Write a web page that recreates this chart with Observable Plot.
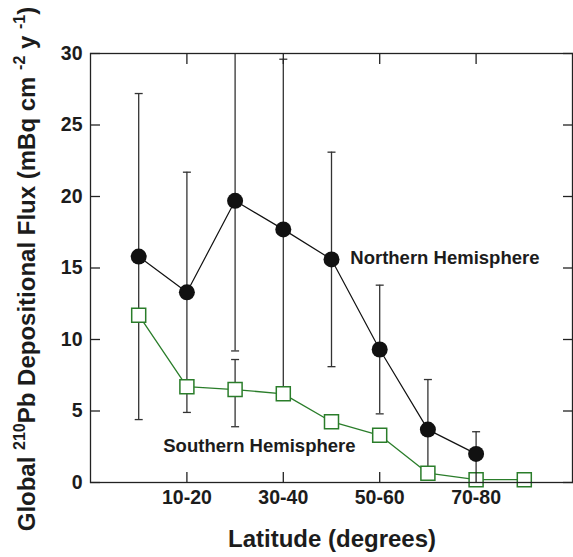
<!DOCTYPE html>
<html><head><meta charset="utf-8">
<script src="https://cdn.jsdelivr.net/npm/d3@7"></script>
<script src="https://cdn.jsdelivr.net/npm/@observablehq/plot@0.6"></script>
<style>body{margin:0;background:#fff;} svg{font-family:"Liberation Sans",Arial,sans-serif;}</style>
</head><body><div id="chart"></div>
<script>
// Data
const categories = ["0-10","10-20","20-30","30-40","40-50","50-60","60-70","70-80","80-90"];
const xTickLabels = ["10-20","30-40","50-60","70-80"];
const yTicks = [0,5,10,15,20,25,30];
const northern = [15.8,13.3,19.7,17.7,15.6,9.3,3.7,2.0];
const northernErr = [11.4,8.4,10.5,11.9,7.5,4.5,3.5,1.55];
const southern = [11.7,6.7,6.5,6.2,4.25,3.3,0.65,0.2,0.2];
const southernLow = [null,null,3.9,null,null,null,null,null,null];
const southernHigh = [null,null,8.6,null,null,null,null,null,null];
const annotations = ["Northern Hemisphere","Southern Hemisphere"];
const annotationX = [5.39, 1.51];
const annotationY = [15.7, 2.55];

const green = "#2a7d2a";
const ink = "#1c1c1c";
const pos = c => categories.indexOf(c) + 1;
const nData = northern.map((v,i)=>({x:i+1, y:v, lo:v-northernErr[i], hi:v+northernErr[i]}));
const sData = southern.map((v,i)=>({x:i+1, y:v}));
const sErr = southernLow.map((lo,i)=>({x:i+1, lo, hi:southernHigh[i]})).filter(d=>d.lo!=null);
const errs = [...nData.map(d=>({x:d.x, lo:d.lo, hi:d.hi})), ...sErr];
const caps = errs.flatMap(d=>[{x:d.x, y:d.lo},{x:d.x, y:d.hi}]);
const capSymbol = {draw(ctx){ctx.moveTo(-4,0); ctx.lineTo(4,0);}};
const xTickValues = xTickLabels.map(pos);

const chart = Plot.plot({
  width:573, height:557,
  marginLeft:90, marginRight:1, marginTop:53, marginBottom:75,
  style:{fontFamily:"Liberation Sans, Arial, sans-serif", background:"white", color:ink},
  x:{domain:[0, categories.length+1]},
  y:{domain:[0,30]},
  marks:[
    Plot.ruleX(errs, {x:"x", y1:"lo", y2:"hi", stroke:"#333", strokeWidth:1.3, clip:true}),
    Plot.dot(caps, {x:"x", y:"y", symbol:capSymbol, stroke:"#333", strokeWidth:1.3, fill:"none", clip:true}),
    Plot.line(nData, {x:"x", y:"y", stroke:"#111", strokeWidth:1.2}),
    Plot.line(sData, {x:"x", y:"y", stroke:green, strokeWidth:1.3}),
    Plot.dot(nData, {x:"x", y:"y", r:8, fill:"#111", stroke:"none"}),
    Plot.dot(sData, {x:"x", y:"y", symbol:"square", r:7.9, fill:"white", stroke:green, strokeWidth:1.5}),
    Plot.text(annotations, {x:(d,i)=>annotationX[i], y:(d,i)=>annotationY[i], text:d=>d, textAnchor:"start", fontSize:18.5, fontWeight:"bold", fill:ink}),
    Plot.frame({stroke:"#222", strokeWidth:1.3}),
    Plot.axisY({ticks:yTicks, anchor:"left", tickSize:10, dx:10, tickFormat:()=>"", label:null, stroke:"#222", strokeWidth:1.3}),
    Plot.axisY({ticks:yTicks, anchor:"right", tickSize:10, dx:-10, tickFormat:()=>"", label:null, stroke:"#222", strokeWidth:1.3}),
    Plot.axisX({ticks:xTickValues, anchor:"bottom", tickSize:10, dy:-10, tickFormat:()=>"", label:null, stroke:"#222", strokeWidth:1.3}),
    Plot.axisX({ticks:xTickValues, anchor:"top", tickSize:10, dy:10, tickFormat:()=>"", label:null, stroke:"#222", strokeWidth:1.3}),
    Plot.axisY({ticks:yTicks, anchor:"left", tickSize:0, tickPadding:8, fontSize:19.5, fontWeight:"bold", label:null, fill:ink}),
    Plot.axisX({ticks:xTickValues, anchor:"bottom", tickSize:0, tickPadding:8, tickFormat:v=>categories[v-1], fontSize:19.5, fontWeight:"bold", label:null, fill:ink})
  ]
});
document.getElementById("chart").appendChild(chart);

const svg = d3.select(chart);
const yl = svg.append("text")
  .attr("transform","translate(35,269) rotate(-90)")
  .attr("text-anchor","middle").attr("font-size",24).attr("font-weight","bold").attr("fill",ink);
yl.append("tspan").text("Global ");
yl.append("tspan").attr("font-size",16).attr("dy",-10).text("210");
yl.append("tspan").attr("dy",10).text("Pb Depositional Flux (mBq cm ");
yl.append("tspan").attr("font-size",16).attr("dy",-10).text("-2");
yl.append("tspan").attr("dy",10).text(" y ");
yl.append("tspan").attr("font-size",16).attr("dy",-10).text("-1");
yl.append("tspan").attr("dy",10).text(")");

svg.append("text")
  .attr("x", 332).attr("y", 547)
  .attr("text-anchor","middle").attr("font-size",24).attr("font-weight","bold").attr("fill",ink)
  .text("Latitude (degrees)");
</script>
</body></html>
